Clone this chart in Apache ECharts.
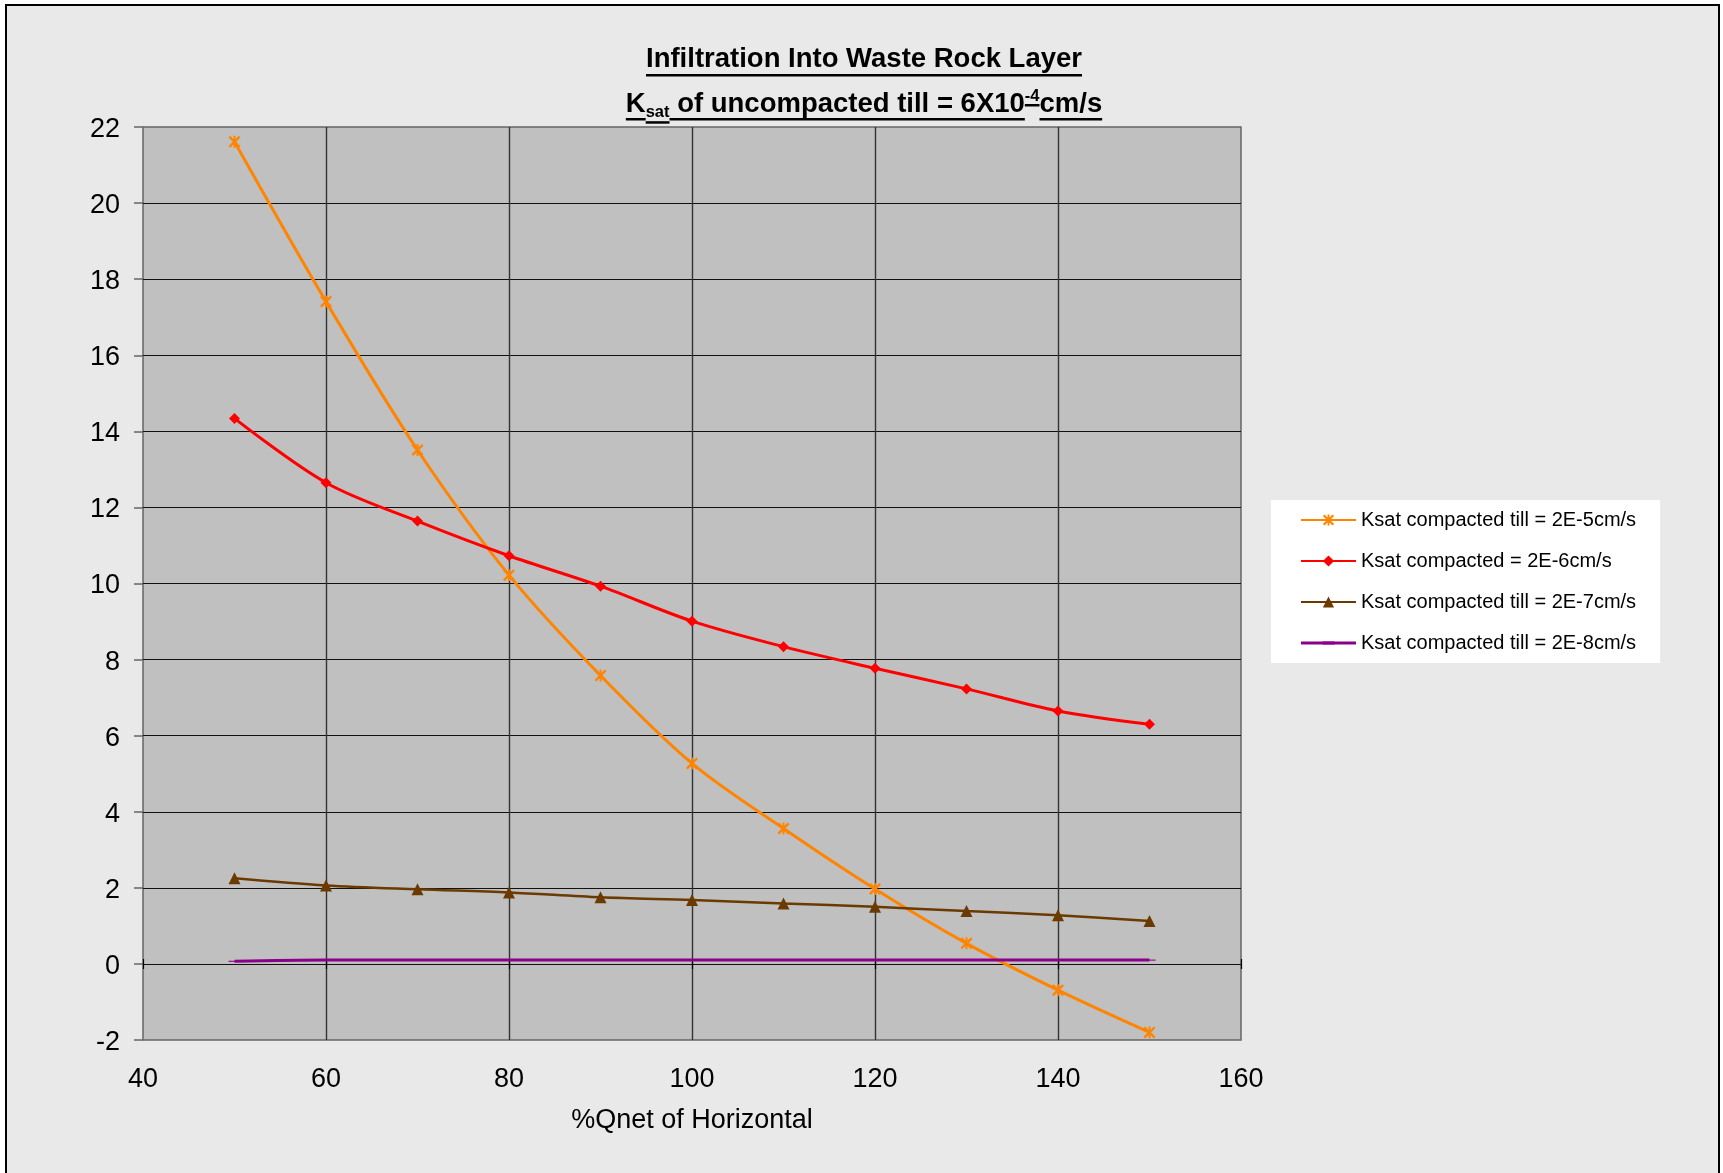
<!DOCTYPE html>
<html><head><meta charset="utf-8">
<script src="https://cdn.jsdelivr.net/npm/echarts@6/dist/echarts.min.js"></script>
<style>html,body{margin:0;padding:0;background:#fff}#c{width:1723px;height:1173px}</style>
</head><body><div id="c"></div>
<script>
// ---- data ----
const xValues = [50, 60, 70, 80, 90, 100, 110, 120, 130, 140, 150];
const seriesNames = [
  'Ksat compacted till = 2E-5cm/s',
  'Ksat compacted = 2E-6cm/s',
  'Ksat compacted till = 2E-7cm/s',
  'Ksat compacted till = 2E-8cm/s'
];
const ksat2E5 = [21.61, 17.41, 13.51, 10.22, 7.58, 5.27, 3.56, 1.97, 0.54, -0.69, -1.80];
const ksat2E6 = [14.34, 12.65, 11.64, 10.73, 9.93, 9.01, 8.34, 7.77, 7.23, 6.65, 6.30];
const ksat2E7 = [2.25, 2.06, 1.96, 1.88, 1.75, 1.68, 1.59, 1.50, 1.39, 1.28, 1.13];
const ksat2E8 = [0.07, 0.10, 0.10, 0.10, 0.10, 0.10, 0.10, 0.10, 0.10, 0.10, 0.10];
const xTickLabels = [40, 60, 80, 100, 120, 140, 160];
const yTickLabels = [-2, 0, 2, 4, 6, 8, 10, 12, 14, 16, 18, 20, 22];
const xAxisTitle = '%Qnet of Horizontal';
const titleLine1 = 'Infiltration Into Waste Rock Layer';

// ---- helpers ----
const FAM = '"Liberation Sans", Arial, Helvetica, sans-serif';
const pairs = arr => arr.map((v, i) => [xValues[i], v]);
const measureCtx = document.createElement('canvas').getContext('2d');
function tw(text, size) { measureCtx.font = 'bold ' + size + 'px ' + FAM; return measureCtx.measureText(text).width; }

function buildTitle() {
  const cx = 864;
  const els = [];
  function seg(text, x, baseline, size, ulOff) {
    els.push({
      type: 'text', z: 10, silent: true,
      style: { text: text, x: x, y: baseline - 0.35 * size, font: 'bold ' + size + 'px ' + FAM,
        fill: '#000', textAlign: 'left', textVerticalAlign: 'middle', align: 'left', verticalAlign: 'middle' }
    });
    els.push({ type: 'rect', z: 10, silent: true,
      shape: { x: x, y: baseline + ulOff, width: tw(text, size), height: 2.5 }, style: { fill: '#000' } });
    return x + tw(text, size);
  }
  const T = 27.5, S = 16.5;
  const w1 = tw(titleLine1, T);
  seg(titleLine1, cx - w1 / 2, 69.5, T, 4.5);
  const parts = [
    { t: 'K', s: T, b: 114, u: 4 },
    { t: 'sat', s: S, b: 118, u: 3.2 },
    { t: ' of uncompacted till = 6X10', s: T, b: 114, u: 4 },
    { t: '-4', s: S, b: 102.5, u: 1.5 },
    { t: 'cm/s', s: T, b: 114, u: 4 }
  ];
  let total = 0; parts.forEach(p => total += tw(p.t, p.s));
  let x = cx - total / 2;
  parts.forEach(p => { x = seg(p.t, x, p.b, p.s, p.u); });
  return els;
}

const starPath = 'path://M0,1.4 L1.4,0 L10,8.6 L8.6,10 Z M8.6,0 L10,1.4 L1.4,10 L0,8.6 Z M4.2,0 L5.8,0 L5.8,10 L4.2,10 Z';
const dashPath = 'path://M0,0 L10,0 L10,3 L0,3 Z';
// legend icon (line + dash) drawn in a 55 x 14 box
const dashLegendIcon = 'path://M0,0 L0.01,0 L0,0.01 Z M55,14 L54.99,14 L55,13.99 Z ' +
  'M0,5.6 L55,5.6 L55,8.4 L0,8.4 Z M21.5,5.2 L33.5,5.2 L33.5,8.8 L21.5,8.8 Z';

function mkSeries(name, data, color, symbol, symbolSize, width) {
  return {
    name: name, type: 'line', data: pairs(data), smooth: 0.33,
    symbol: symbol, symbolSize: symbolSize, symbolKeepAspect: true,
    lineStyle: { color: color, width: width },
    itemStyle: { color: color, borderWidth: 0 },
    emphasis: { disabled: true }, silent: true
  };
}

const chart = echarts.init(document.getElementById('c'), null, { renderer: 'canvas' });
chart.setOption({
  animation: false,
  backgroundColor: '#ffffff',
  textStyle: { fontFamily: FAM },
  graphic: [
    { type: 'rect', z: -100, silent: true, shape: { x: 6, y: 5, width: 1713, height: 1220 },
      style: { fill: '#e8e9e8', stroke: '#000', lineWidth: 2 } }
  ].concat(buildTitle()),
  grid: { left: 143, top: 127, right: 482, bottom: 133, show: true, backgroundColor: '#c0c0c0',
    borderColor: '#666', borderWidth: 1.5, containLabel: false },
  legend: {
    orient: 'vertical', left: 1271, top: 500, backgroundColor: '#ffffff',
    padding: [10, 24, 10, 29], itemWidth: 55, itemHeight: 14, itemGap: 21,
    textStyle: { fontSize: 20, color: '#000', fontFamily: FAM },
    data: [seriesNames[0], seriesNames[1], seriesNames[2], { name: seriesNames[3], icon: dashLegendIcon }]
  },
  xAxis: [{
    type: 'value', min: xTickLabels[0], max: xTickLabels[xTickLabels.length - 1],
    interval: xTickLabels[1] - xTickLabels[0],
    name: xAxisTitle, nameLocation: 'middle', nameGap: 67,
    nameTextStyle: { fontSize: 27, color: '#000', fontFamily: FAM },
    axisLine: { show: false }, axisTick: { show: false },
    axisLabel: { fontSize: 27, color: '#000', margin: 26, fontFamily: FAM },
    splitLine: { show: true, showMinLine: false, showMaxLine: false, lineStyle: { color: '#333', width: 1.4 } }
  }, {
    type: 'value', position: 'bottom', offset: -71, min: xTickLabels[0], max: xTickLabels[xTickLabels.length - 1],
    interval: xTickLabels[1] - xTickLabels[0],
    axisLine: { show: false }, axisLabel: { show: false }, splitLine: { show: false },
    axisTick: { show: true, inside: true, length: 10, lineStyle: { color: '#000', width: 1.2 } }
  }],
  yAxis: {
    type: 'value', min: yTickLabels[0], max: yTickLabels[yTickLabels.length - 1],
    interval: yTickLabels[1] - yTickLabels[0],
    axisLine: { show: false },
    axisTick: { show: true, length: 9, lineStyle: { color: '#666', width: 1.5 } },
    axisLabel: { fontSize: 27, color: '#000', margin: 23, fontFamily: FAM,
      formatter: v => '{p|' + v + '}',
      rich: { p: { fontSize: 27, color: '#000', fontFamily: FAM, padding: [5, 0, 0, 0] } } },
    splitLine: { show: true, showMinLine: false, showMaxLine: false, lineStyle: { color: '#111', width: 1.2 } }
  },
  series: [
    mkSeries(seriesNames[0], ksat2E5, '#ff8400', starPath, 12, 3),
    mkSeries(seriesNames[1], ksat2E6, '#ff0000', 'diamond', 11, 3),
    mkSeries(seriesNames[2], ksat2E7, '#6b3a00', 'triangle', 12, 2.5),
    mkSeries(seriesNames[3], ksat2E8, '#8b008b', dashPath, [12, 3.6], 3)
  ]
});
</script></body></html>
